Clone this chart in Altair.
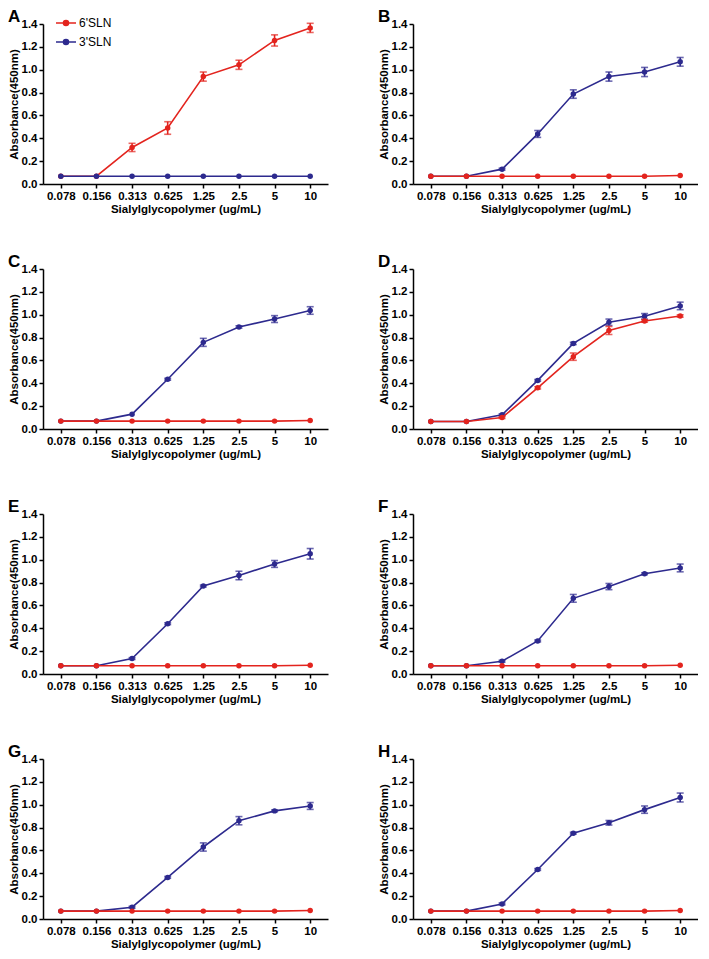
import altair as alt
import pandas as pd

conc = ["0.078", "0.156", "0.313", "0.625", "1.25", "2.5", "5", "10"]
series = ["6'SLN", "3'SLN"]
colors = ["#E3241E", "#2D2A8E"]
letters = ["A", "B", "C", "D", "E", "F", "G", "H"]

# 6'SLN (red) per panel
red_A = [0.068, 0.068, 0.320, 0.490, 0.940, 1.043, 1.256, 1.366]
red_A_err = [0, 0, 0.036, 0.055, 0.040, 0.040, 0.049, 0.040]
red_B = [0.068, 0.068, 0.068, 0.068, 0.068, 0.068, 0.068, 0.075]
red_B_err = [0, 0, 0, 0, 0, 0, 0, 0]
red_C = [0.069, 0.069, 0.069, 0.069, 0.069, 0.069, 0.069, 0.075]
red_C_err = [0, 0, 0, 0, 0, 0, 0, 0]
red_D = [0.065, 0.065, 0.100, 0.360, 0.633, 0.862, 0.945, 0.989]
red_D_err = [0, 0, 0.008, 0.010, 0.032, 0.035, 0.010, 0.010]
red_E = [0.072, 0.072, 0.072, 0.072, 0.072, 0.072, 0.072, 0.077]
red_E_err = [0, 0, 0, 0, 0, 0, 0, 0]
red_F = [0.072, 0.072, 0.072, 0.072, 0.072, 0.072, 0.072, 0.077]
red_F_err = [0, 0, 0, 0, 0, 0, 0, 0]
red_G = [0.069, 0.069, 0.069, 0.069, 0.069, 0.069, 0.069, 0.074]
red_G_err = [0, 0, 0, 0, 0, 0, 0, 0]
red_H = [0.069, 0.069, 0.069, 0.069, 0.069, 0.069, 0.069, 0.074]
red_H_err = [0, 0, 0, 0, 0, 0, 0, 0]

# 3'SLN (blue) per panel
blue_A = [0.068, 0.068, 0.068, 0.068, 0.068, 0.068, 0.068, 0.068]
blue_A_err = [0, 0, 0, 0, 0, 0, 0, 0]
blue_B = [0.068, 0.068, 0.130, 0.438, 0.787, 0.940, 0.980, 1.069]
blue_B_err = [0, 0, 0.008, 0.030, 0.037, 0.040, 0.040, 0.038]
blue_C = [0.069, 0.069, 0.130, 0.435, 0.758, 0.893, 0.962, 1.037]
blue_C_err = [0, 0, 0, 0.008, 0.035, 0.010, 0.030, 0.033]
blue_D = [0.065, 0.065, 0.124, 0.425, 0.749, 0.934, 0.986, 1.077]
blue_D_err = [0, 0, 0.008, 0.008, 0.010, 0.028, 0.024, 0.033]
blue_E = [0.072, 0.072, 0.135, 0.440, 0.770, 0.862, 0.963, 1.052]
blue_E_err = [0, 0, 0.008, 0.008, 0.008, 0.037, 0.030, 0.046]
blue_F = [0.072, 0.072, 0.112, 0.289, 0.662, 0.765, 0.877, 0.928]
blue_F_err = [0, 0, 0.008, 0.008, 0.034, 0.027, 0.008, 0.034]
blue_G = [0.069, 0.069, 0.103, 0.364, 0.630, 0.860, 0.946, 0.989]
blue_G_err = [0, 0, 0.008, 0.008, 0.036, 0.036, 0.008, 0.030]
blue_H = [0.069, 0.069, 0.132, 0.433, 0.751, 0.842, 0.957, 1.063]
blue_H_err = [0, 0, 0.008, 0.008, 0.008, 0.020, 0.032, 0.039]

red_vals = [red_A, red_B, red_C, red_D, red_E, red_F, red_G, red_H]
red_errs = [red_A_err, red_B_err, red_C_err, red_D_err, red_E_err, red_F_err, red_G_err, red_H_err]
blue_vals = [blue_A, blue_B, blue_C, blue_D, blue_E, blue_F, blue_G, blue_H]
blue_errs = [blue_A_err, blue_B_err, blue_C_err, blue_D_err, blue_E_err, blue_F_err, blue_G_err, blue_H_err]

FONT = "Liberation Sans"
W, H = 285, 160
color_scale = alt.Scale(domain=series, range=colors)
legend_path = "M-2,0L2,0M-0.5,0A0.5,0.5,0,1,1,0.5,0A0.5,0.5,0,1,1,-0.5,0Z"


def panel(i):
    rows = []
    for s, vals, errs in ((series[0], red_vals[i], red_errs[i]), (series[1], blue_vals[i], blue_errs[i])):
        for c, v, e in zip(conc, vals, errs):
            rows.append({"conc": c, "series": s, "val": v, "err": e})
    df = pd.DataFrame(rows)
    order = [series[0], series[1]] if i == 0 else [series[1], series[0]]
    if i == 0:
        legend = alt.Legend(
            title=None, orient="none", legendX=17, legendY=-7, padding=0,
            symbolType=legend_path, symbolSize=100, symbolStrokeWidth=1.6,
            labelFont=FONT, labelFontSize=12, labelFontWeight="normal",
            labelColor="black", rowPadding=7, labelOffset=7,
        )
    else:
        legend = None
    x = alt.X("conc:O", sort=conc, scale=alt.Scale(type="point", padding=0.5),
              title="Sialylglycopolymer (ug/mL)")
    y = alt.Y("val:Q", scale=alt.Scale(domain=[0, 1.4], nice=False, zero=True),
              axis=alt.Axis(values=[0, 0.2, 0.4, 0.6, 0.8, 1.0, 1.2, 1.4], format=".1f"),
              title="Absorbance(450nm)")
    color = alt.Color("series:N", scale=color_scale, legend=legend)
    layers = []
    for s in order:
        d = df[df["series"] == s]
        err_d = d[d["err"] > 0]
        line = alt.Chart(d).mark_line(
            strokeWidth=1.6,
            point=alt.OverlayMarkDef(filled=True, size=30, opacity=1),
        ).encode(x=x, y=y, color=color)
        layers.append(line)
        if len(err_d):
            eb = alt.Chart(err_d).mark_errorbar(
                ticks=alt.TickConfig(size=7, thickness=1.6), thickness=1.6
            ).encode(x=x, y=y, yError=alt.YError("err:Q"), color=color)
            layers.append(eb)
    return alt.layer(*layers).properties(
        width=W, height=H,
        title=alt.TitleParams(text=letters[i], anchor="start", frame="bounds",
                              font=FONT, fontSize=17, fontWeight="bold",
                              color="black", offset=-8),
    )


rows_ = []
for r in range(4):
    rows_.append(alt.hconcat(panel(2 * r), panel(2 * r + 1), spacing=50))

chart = alt.vconcat(*rows_, spacing=38).resolve_scale(color="independent").properties(
    padding=0
).configure_view(stroke=None).configure_axis(
    labelFont=FONT, labelFontSize=11.5, labelFontWeight="bold", labelColor="black",
    titleFont=FONT, titleFontSize=11.5, titleFontWeight="bold", titleColor="black",
    domainColor="black", domainWidth=1.5, tickColor="black", tickWidth=1.5,
    tickSize=4, grid=False, labelPadding=2, titlePadding=2,
).configure_axisX(labelAngle=0)

chart.save("out.html", embed_options={"renderer": "svg", "actions": False})
